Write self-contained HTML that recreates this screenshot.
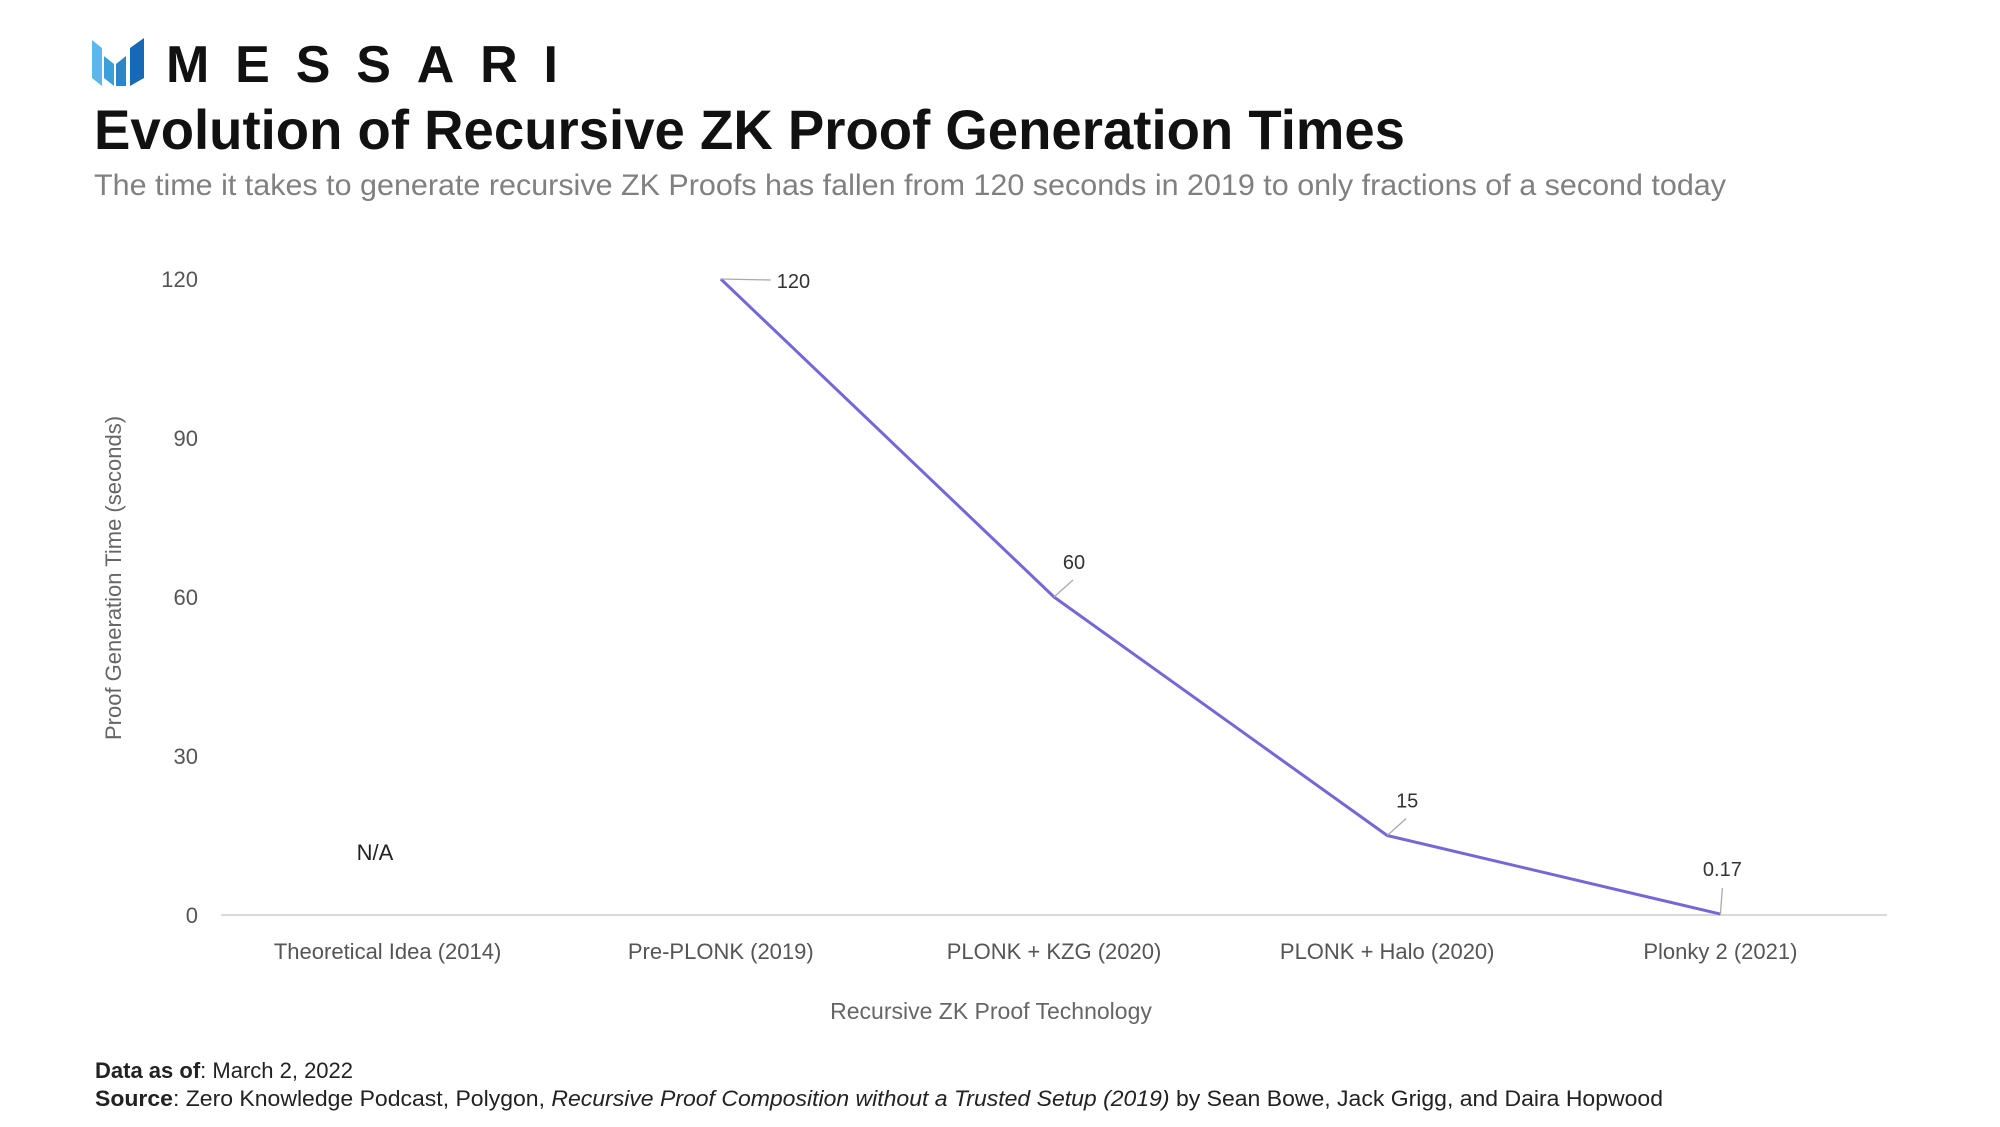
<!DOCTYPE html>
<html><head><meta charset="utf-8"><style>
html,body{margin:0;padding:0;background:#fff;}
svg{display:block;}
text{font-family:"Liberation Sans",sans-serif;}
</style></head><body>
<svg id="chart" width="2000" height="1127" viewBox="0 0 2000 1127" xmlns="http://www.w3.org/2000/svg">
  <g>
    <polygon points="92,40 102,48 102,86 92,78" fill="#5bb8e8"/>
    <polygon points="104,56 114,64 114,86 104,78" fill="#3aa0dc"/>
    <polygon points="116,64 126,56 126,86 116,86" fill="#2a86c9"/>
    <polygon points="130,48 144,38 144,78 130,86" fill="#1769b5"/>
    <text x="166" y="82" font-size="52" font-weight="bold" fill="#111" textLength="392" lengthAdjust="spacing">MESSARI</text>
  </g>
  <text x="94" y="149" font-size="56" font-weight="bold" fill="#111" textLength="1311" lengthAdjust="spacingAndGlyphs">Evolution of Recursive ZK Proof Generation Times</text>
  <text x="94" y="195" font-size="30" fill="#808080" textLength="1632" lengthAdjust="spacingAndGlyphs">The time it takes to generate recursive ZK Proofs has fallen from 120 seconds in 2019 to only fractions of a second today</text>
  <g id="plot"></g>
  <text x="375" y="860" font-size="22" fill="#222" text-anchor="middle">N/A</text>
  <text transform="translate(121,578) rotate(-90)" font-size="22" fill="#666" text-anchor="middle">Proof Generation Time (seconds)</text>
  <text x="991" y="1019" font-size="23" fill="#666" text-anchor="middle">Recursive ZK Proof Technology</text>
  <text x="95" y="1078" font-size="22" fill="#222"><tspan font-weight="bold">Data as of</tspan>: March 2, 2022</text>
  <text x="95" y="1106" font-size="22" fill="#222" textLength="1568" lengthAdjust="spacingAndGlyphs"><tspan font-weight="bold">Source</tspan>: Zero Knowledge Podcast, Polygon, <tspan font-style="italic">Recursive Proof Composition without a Trusted Setup (2019)</tspan> by Sean Bowe, Jack Grigg, and Daira Hopwood</text>
</svg>
<script>
const categories = ["Theoretical Idea (2014)", "Pre-PLONK (2019)", "PLONK + KZG (2020)", "PLONK + Halo (2020)", "Plonky 2 (2021)"];
const values = [null, 120, 60, 15, 0.17];
const valueLabels = ["", "120", "60", "15", "0.17"];
const yTicks = [0, 30, 60, 90, 120];

const NS = "http://www.w3.org/2000/svg";
const plot = document.getElementById("plot");
const x0 = 221, x1 = 1887, yBase = 915, yTop = 279, yMax = 120;
const band = (x1 - x0) / categories.length;
function xScale(i){ return x0 + band * (i + 0.5); }
function yScale(v){ return yBase - (v / yMax) * (yBase - yTop); }
function mk(tag, attrs){ const e = document.createElementNS(NS, tag); for (const k in attrs) e.setAttribute(k, attrs[k]); plot.appendChild(e); return e; }

yTicks.forEach(t => {
  const e = mk("text", {x: 198, y: yScale(t) + 8, "font-size": 22, fill: "#555", "text-anchor": "end"});
  e.textContent = t;
  
  
});
const base = mk("line", {x1: x0, x2: x1, y1: yBase, y2: yBase, stroke: "#d9d9d9", "stroke-width": 2});



categories.forEach((c, i) => {
  const e = mk("text", {x: xScale(i), y: 959, "font-size": 22, fill: "#555", "text-anchor": "middle"});
  e.textContent = c;
  
  
});

let pts = [];
values.forEach((v, i) => { if (v !== null) pts.push([xScale(i), yScale(v)]); });
const line = mk("polyline", {points: pts.map(p => p.join(",")).join(" "), fill: "none", stroke: "#7467d6", "stroke-width": 3, "stroke-linejoin": "round"});



values.forEach((v, i) => {
  if (v === null) return;
  const px = xScale(i), py = yScale(v);
  let lx2, ly2, tx, ty, anchor;
  if (i === 1) { lx2 = px + 50; ly2 = py + 1; tx = px + 56; ty = py + 9; anchor = "start"; }
  else if (i === categories.length - 1) { lx2 = px + 2; ly2 = py - 26; tx = px + 2; ty = py - 38; anchor = "middle"; }
  else { lx2 = px + 19; ly2 = py - 17; tx = px + 20; ty = py - 28; anchor = "middle"; }
  const l = mk("line", {x1: px, y1: py, x2: lx2, y2: ly2, stroke: "#aaa", "stroke-width": 1.3});
  
  
  const t = mk("text", {x: tx, y: ty, "font-size": 20, fill: "#333", "text-anchor": anchor});
  t.textContent = valueLabels[i];
  
  
});
</script>
</body></html>
